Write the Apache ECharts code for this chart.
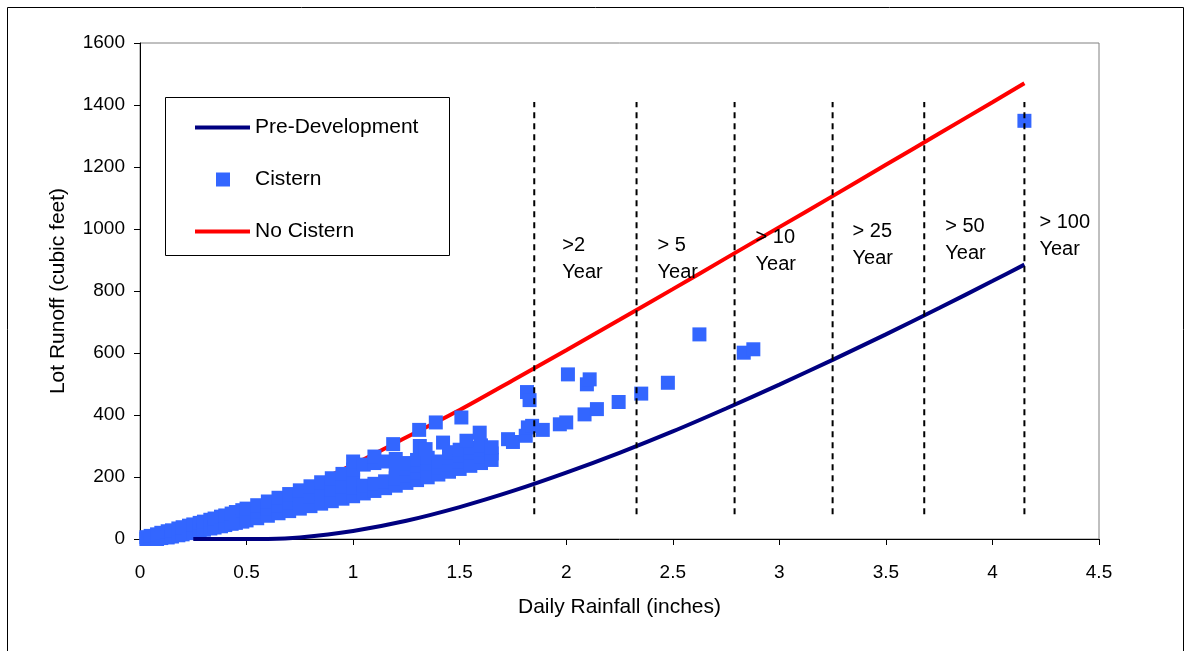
<!DOCTYPE html>
<html><head><meta charset="utf-8">
<script src="https://cdn.jsdelivr.net/npm/echarts@6/dist/echarts.min.js"></script>
<style>html,body{margin:0;padding:0;background:#fff}#c{width:1185px;height:651px}</style>
</head><body><div id="c"></div>
<script>
// ---------- data ----------
const rainTicks = [0, 0.5, 1, 1.5, 2, 2.5, 3, 3.5, 4, 4.5];
const runoffTicks = [0, 200, 400, 600, 800, 1000, 1200, 1400, 1600];

const preDevRain   = [0.25, 0.5, 0.6, 0.75, 1.0, 1.25, 1.5, 1.75, 2.0, 2.25, 2.5, 2.75, 3.0, 3.25, 3.5, 3.75, 4.0, 4.15];
const preDevRunoff = [0, 0, 0.2, 5, 26, 59, 103, 155, 214, 278, 347, 421, 498, 578, 660, 745, 832, 885];

const noCisternRain   = [0.1, 0.25, 0.5, 0.75, 1.0, 1.25, 1.5, 1.75, 2.0, 2.25, 2.5, 2.75, 3.0, 3.25, 3.5, 3.75, 4.0, 4.15];
const noCisternRunoff = [3, 30, 95, 160, 240, 328, 416, 512, 609, 707, 806, 906, 1006, 1106, 1207, 1308, 1409, 1470];

const cisternPoints = [
  [0.03,0],[0.03,6],[0.05,0],[0.05,10],[0.08,0],[0.08,15],[0.1,3],[0.1,20],[0.13,5],[0.13,25],
  [0.15,8],[0.15,28],[0.18,12],[0.18,34],[0.2,15],[0.2,38],[0.23,19],[0.23,43],[0.25,22],[0.25,47],
  [0.28,26],[0.28,52],[0.3,30],[0.3,56],[0.33,34],[0.33,62],[0.35,37],[0.35,66],[0.38,41],[0.38,72],
  [0.4,45],[0.4,76],[0.43,49],[0.43,82],[0.45,52],[0.45,87],[0.48,56],[0.48,93],[0.5,60],[0.5,98],
  [0.55,67],[0.55,88],[0.55,109],[0.6,75],[0.6,98],[0.6,121],[0.65,83],[0.65,108],[0.65,133],
  [0.7,90],[0.7,117],[0.7,145],[0.75,98],[0.75,127],[0.75,157],[0.8,106],[0.8,138],[0.8,170],
  [0.85,114],[0.85,148],[0.85,183],[0.9,122],[0.9,159],[0.9,196],[0.95,130],[0.95,170],[0.95,210],
  [1.0,138],[1.0,165],[1.0,190],[1.0,224],[1.0,250],[1.05,147],[1.05,172],[1.05,240],
  [1.1,155],[1.1,178],[1.1,245],[1.1,266],[1.15,164],[1.15,186],[1.15,250],
  [1.2,172],[1.2,196],[1.2,222],[1.2,258],[1.25,181],[1.25,205],[1.25,228],[1.25,245],
  [1.3,190],[1.3,213],[1.3,236],[1.3,255],[1.35,199],[1.35,222],[1.35,245],[1.35,262],
  [1.4,208],[1.4,230],[1.4,250],[1.45,217],[1.45,240],[1.45,262],[1.45,280],
  [1.5,226],[1.5,249],[1.5,270],[1.5,288],[1.55,236],[1.55,258],[1.55,278],[1.55,294],
  [1.6,245],[1.6,267],[1.6,288],[1.6,302],[1.65,255],[1.65,276],[1.65,296],
  [1.188,306],[1.31,352],[1.313,300],[1.34,290],[1.388,376],[1.422,311],[1.508,392],[1.532,317],
  [1.594,343],[1.727,322],[1.75,313],[1.81,333],[1.816,474],[1.82,360],[1.828,448],[1.84,365],
  [1.89,352],[1.97,370],[2.0,376],[2.008,531],[2.086,402],[2.097,499],[2.11,515],[2.144,419],
  [2.246,442],[2.352,469],[2.477,504],[2.625,660],[2.833,601],[2.878,612],[4.15,1349]
];

const periodRain   = [1.85, 2.33, 2.79, 3.25, 3.68, 4.15];
const periodLabels = ['>2\nYear', '> 5\nYear', '> 10\nYear', '> 25\nYear', '> 50\nYear', '> 100\nYear'];
const periodLineRange = [80, 1410];

// ---------- chart ----------
const F = '"Liberation Sans", Arial, sans-serif';
const chart = echarts.init(document.getElementById('c'), null, {renderer: 'canvas'});
const zip = (a, b) => a.map((v, i) => [v, b[i]]);

// label anchors (runoff level of the label block centre, px offset right of dashed line)
const labelAnchorY = [903, 903, 929, 950, 964, 979];
const labelOffset  = [28, 21, 21, 20, 21, 15];

const dashedSeries = periodRain.map(x => ({
  type: 'line', silent: true, symbol: 'none', z: 6,
  data: [[x, periodLineRange[0]], [x, periodLineRange[1]]],
  lineStyle: {color: '#000', width: 2, type: [6, 5]}
}));

const baseGraphic = [
  {type: 'rect', shape: {x: 7.5, y: 7.5, width: 1176, height: 660}, style: {fill: 'none', stroke: '#000', lineWidth: 1}, z: 0, silent: true},
  {type: 'rect', shape: {x: 165.5, y: 97.5, width: 284, height: 158}, style: {fill: '#fff', stroke: '#000', lineWidth: 1}, z: 1, silent: true}
];

const legendText = {color: '#000', fontSize: 21, fontFamily: F};

const option = {
  animation: false,
  backgroundColor: '#fff',
  grid: {left: 140, top: 43, width: 959, height: 496, show: true, borderColor: '#808080', borderWidth: 1,
         backgroundColor: 'transparent', containLabel: false, outerBoundsMode: 'none'},
  xAxis: {
    type: 'value', min: rainTicks[0], max: rainTicks[rainTicks.length - 1], interval: 0.5,
    axisLine: {show: true, onZero: false, lineStyle: {color: '#000', width: 1}},
    axisTick: {show: true, inside: false, length: 6, lineStyle: {color: '#000', width: 1}},
    axisLabel: {color: '#000', fontSize: 19, fontFamily: F, margin: 24, formatter: v => String(v)},
    splitLine: {show: false},
    name: 'Daily Rainfall (inches)', nameLocation: 'middle', nameGap: 58,
    nameTextStyle: {color: '#000', fontSize: 21, fontFamily: F}
  },
  yAxis: {
    type: 'value', min: runoffTicks[0], max: runoffTicks[runoffTicks.length - 1], interval: 200,
    axisLine: {show: true, onZero: false, lineStyle: {color: '#000', width: 1}},
    axisTick: {show: true, inside: false, length: 6, lineStyle: {color: '#000', width: 1}},
    axisLabel: {color: '#000', fontSize: 19, fontFamily: F, margin: 15, formatter: v => String(v)},
    splitLine: {show: false},
    name: 'Lot Runoff (cubic feet)', nameLocation: 'middle', nameGap: 71,
    nameTextStyle: {color: '#000', fontSize: 21, fontFamily: F}
  },
  legend: [
    {data: [{name: 'Pre-Development', icon: 'path://M0 0H55V4H0Z'}], left: 195, top: 117, padding: 0,
     itemWidth: 55, itemHeight: 4, selectedMode: false, textStyle: legendText},
    {data: [{name: 'Cistern', icon: 'rect'}], left: 216, top: 169, padding: 0,
     itemWidth: 14, itemHeight: 14, selectedMode: false, textStyle: Object.assign({padding: [0, 0, 0, 20]}, legendText)},
    {data: [{name: 'No Cistern', icon: 'path://M0 0H55V4H0Z'}], left: 195, top: 221, padding: 0,
     itemWidth: 55, itemHeight: 4, selectedMode: false, textStyle: legendText}
  ],
  graphic: baseGraphic,
  series: [
    {name: 'Pre-Development', type: 'line', data: zip(preDevRain, preDevRunoff), symbol: 'none', smooth: 0.3,
     z: 4, lineStyle: {color: '#000080', width: 4}, itemStyle: {color: '#000080'}},
    {name: 'Cistern', type: 'scatter', data: cisternPoints, symbol: 'rect', symbolSize: 14, clip: false, z: 3,
     itemStyle: {color: '#3366FF', opacity: 1}},
    {name: 'No Cistern', type: 'line', data: zip(noCisternRain, noCisternRunoff), symbol: 'none', smooth: 0.3,
     z: 2, lineStyle: {color: '#FF0000', width: 4}, itemStyle: {color: '#FF0000'}},
    ...dashedSeries
  ]
};
chart.setOption(option);

// return-period labels, anchored to the dashed lines through the chart's own scales
const labelGraphic = periodRain.map((x, i) => {
  const p = chart.convertToPixel({gridIndex: 0}, [x, labelAnchorY[i]]);
  return {type: 'text', z: 10, silent: true, x: p[0] + labelOffset[i], y: p[1],
    style: {text: periodLabels[i], fill: '#000', fontSize: 20, fontFamily: F, lineHeight: 27,
            align: 'left', verticalAlign: 'middle'}};
});
chart.setOption({graphic: baseGraphic.concat(labelGraphic)});
</script>
</body></html>
